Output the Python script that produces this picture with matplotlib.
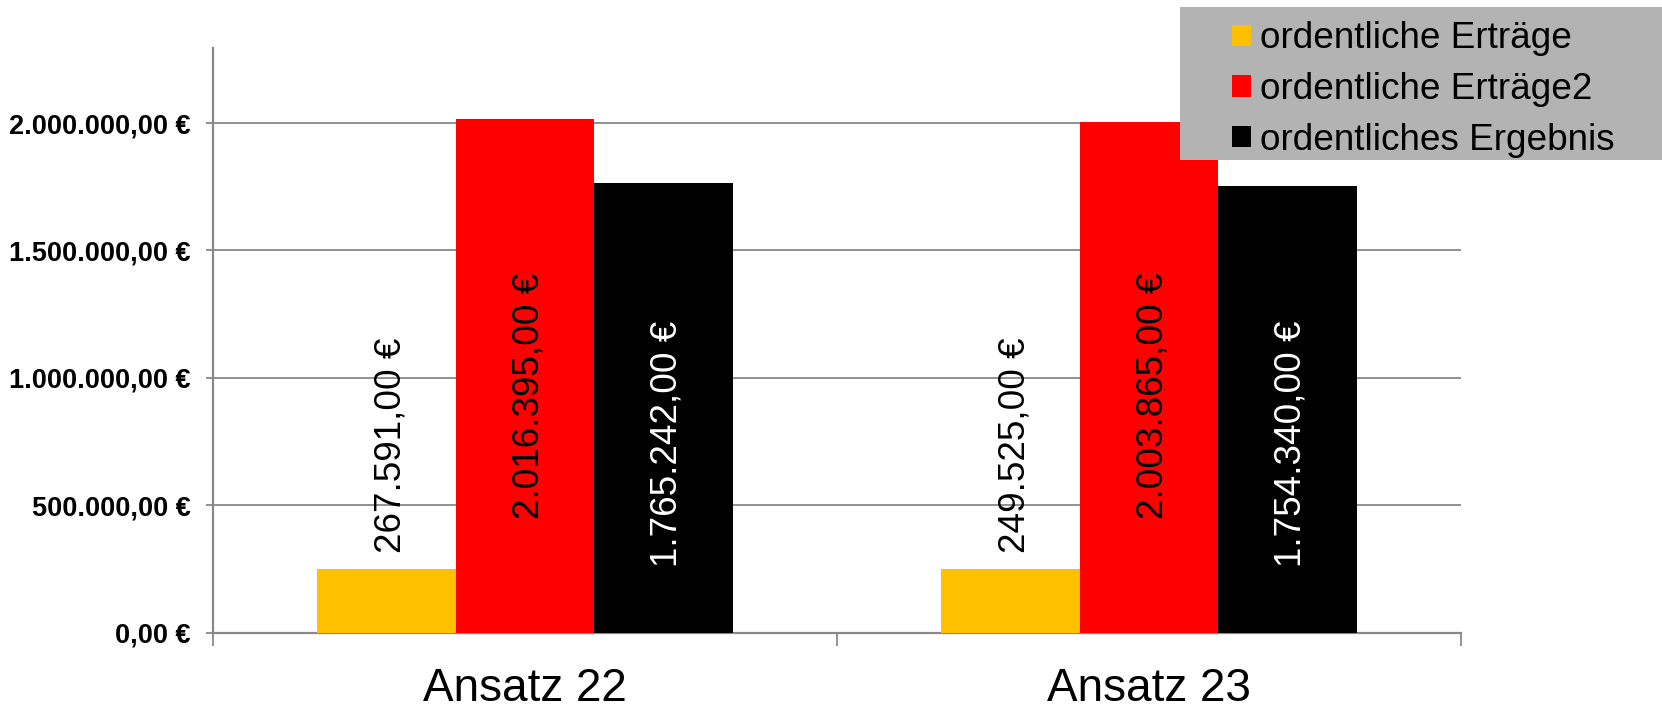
import matplotlib
matplotlib.use("Agg")
import matplotlib.pyplot as plt
from matplotlib.patches import Patch, Rectangle
import numpy as np

plt.rcParams['font.family'] = ['Liberation Sans', 'DejaVu Sans']

categories = ["Ansatz 22", "Ansatz 23"]
series_names = ["ordentliche Erträge", "ordentliche Erträge2", "ordentliches Ergebnis"]
ertraege = [250000, 249525]
ertraege2 = [2016395, 2003865]
ergebnis = [1765242, 1754340]
label_ertraege = [267591, 249525]
label_ertraege2 = [2016395, 2003865]
label_ergebnis = [1765242, 1754340]
y_ticks = [0, 500000, 1000000, 1500000, 2000000]
colors = ["#FFC000", "#FF0000", "#000000"]
label_colors = ["black", "black", "white"]


def de_fmt(v):
    s = f"{v:,.2f}"
    s = s.replace(",", "X").replace(".", ",").replace("X", ".")
    return s + " €"


W, H = 1662, 711
fig = plt.figure(figsize=(W / 100, H / 100), dpi=100)
ax = fig.add_axes([213 / W, 1 - 632.5 / H, (1461 - 213) / W, (632.5 - 48) / H])

x = np.arange(len(categories))
bw = 0.2218
series = [ertraege, ertraege2, ergebnis]
labels = [label_ertraege, label_ertraege2, label_ergebnis]
offsets = [-bw, 0, bw]

for i, (vals, lab) in enumerate(zip(series, labels)):
    ax.bar(x + offsets[i], vals, width=bw, color=colors[i], zorder=3,
           label=series_names[i])
    for xi, v, lv in zip(x, vals, lab):
        if i == 0:
            xy = (xi + offsets[i], v)
            off = 11.2
        elif i == 1:
            xy = (xi + offsets[i], 0)
            off = 81.7
        else:
            xy = (xi + offsets[i], 0)
            off = 47.2
        ax.annotate(de_fmt(lv), xy=xy, xytext=(0, off), textcoords='offset points',
                    rotation=90, rotation_mode='anchor', ha='left',
                    va='center_baseline', fontsize=26.6, color=label_colors[i],
                    zorder=5)

ax.set_xlim(-0.5, 1.5)
ax.set_ylim(0, 2295000)
ax.set_yticks(y_ticks)
ax.set_yticklabels([de_fmt(v) for v in y_ticks], fontsize=19.5, fontweight='bold')
ax.yaxis.grid(True, color='#888888', linewidth=1.3, zorder=0)
ax.set_axisbelow(True)

ax.set_xticks([-0.5, 0.5, 1.5])
ax.set_xticklabels([])
ax.set_xticks(x, minor=True)
ax.set_xticklabels(categories, minor=True, fontsize=33)
ax.tick_params(axis='x', which='major', length=9.5, width=1.3, color='#888888')
ax.tick_params(axis='x', which='minor', length=0, pad=25)
ax.tick_params(axis='y', length=5, width=1.3, color='#888888', pad=11)

for s in ['top', 'right']:
    ax.spines[s].set_visible(False)
for s in ['left', 'bottom']:
    ax.spines[s].set_color('#888888')
    ax.spines[s].set_linewidth(1.6)

# legend box
fig.patches.append(Rectangle((1180 / W, 1 - 160 / H), (W - 1180) / W, (160 - 7) / H,
                             transform=fig.transFigure, facecolor='#b3b3b3',
                             edgecolor='none', zorder=10))
handles = [Patch(facecolor=c, edgecolor='none') for c in colors]
leg = fig.legend(handles, series_names, loc='upper left',
                 bbox_to_anchor=(1232 / W, 1 - 21.5 / H), frameon=False,
                 fontsize=26.6, handlelength=0.52, handleheight=0.52,
                 handletextpad=0.24, borderpad=0, borderaxespad=0,
                 labelspacing=0.42)
leg.set_zorder(11)

fig.savefig("out.png", dpi=100)
